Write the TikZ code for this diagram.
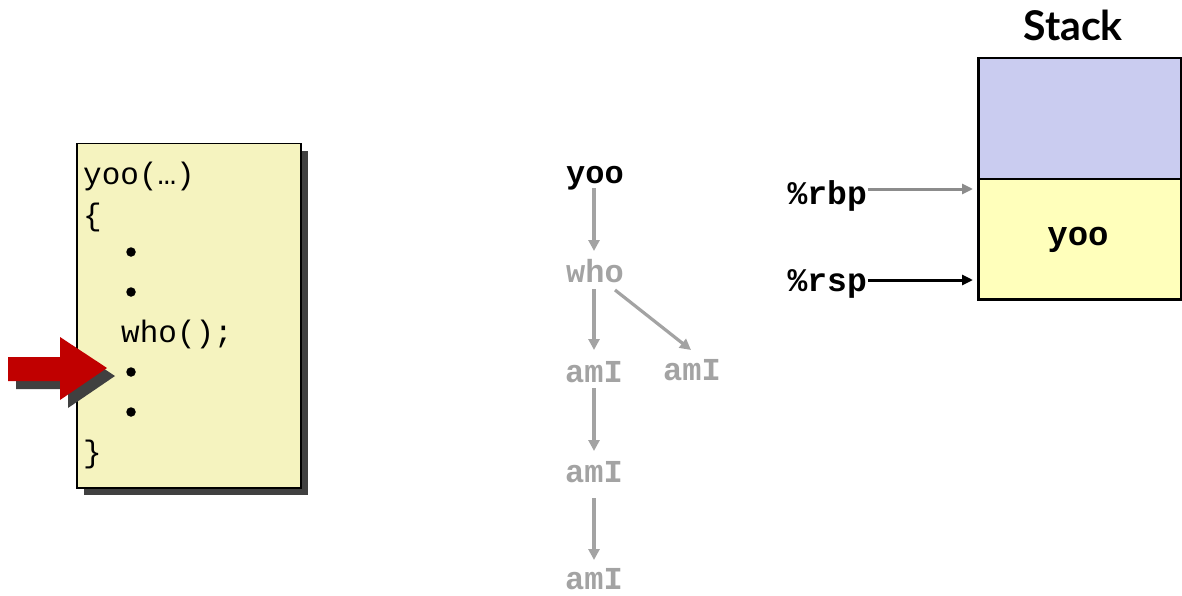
\documentclass[tikz,border=0pt]{standalone}
\usepackage{fontspec}
\setmainfont{Lato}
\newfontfamily\codefont{Liberation Mono}
\usetikzlibrary{arrows.meta}
\definecolor{codebg}{HTML}{F5F3BF}
\definecolor{shadowc}{HTML}{404040}
\definecolor{treegray}{HTML}{A3A3A3}
\definecolor{stackblue}{HTML}{CACCF0}
\definecolor{stackyellow}{HTML}{FFFFBB}
\definecolor{arrowred}{HTML}{C00000}
\definecolor{rbpgray}{HTML}{8C8C8C}
\tikzset{
  codeline/.style={anchor=base west, inner sep=0pt, font=\codefont\fontsize{31}{31}\selectfont},
  bulletdot/.style={circle, fill=black, inner sep=0pt, minimum size=9.5pt},
  treelabel/.style={inner sep=0pt, text=treegray, font=\codefont\bfseries\fontsize{32}{32}\selectfont},
  treeroot/.style={treelabel, text=black},
  treearrow/.style={draw=treegray, line width=3.2pt, -{Triangle[length=11pt,width=11pt]}},
  reglabel/.style={inner sep=1pt, anchor=east, font=\codefont\bfseries\fontsize{33}{33}\selectfont},
  regarrow/.style={line width=3pt, -{Triangle[length=11pt,width=10pt]}},
}
\begin{document}
\begin{tikzpicture}[x=1pt,y=-1pt]
\useasboundingbox (0,0) rectangle (1182,596);
% code box with shadow
\fill[shadowc] (84,151) rectangle (308,495);
\node[draw=black, line width=1.5pt, fill=codebg, minimum width=224pt, minimum height=344pt, anchor=north west, inner sep=0pt] (code) at (76,143) {};
\node[codeline] (l1) at (83,185) {yoo(…)};
\node[codeline] (l2) at (83,225) {\{};
\node[bulletdot] (b1) at (131,252) {};
\node[bulletdot] (b2) at (131,292) {};
\node[codeline] (l5) at (121,342) {who();};
\node[bulletdot] (b3) at (131,372) {};
\node[bulletdot] (b4) at (131,412) {};
\node[codeline] (l8) at (83,462) {\}};
% red arrow with shadow
\fill[shadowc] (16,365) -- (68,365) -- (68,345) -- (115,376) -- (68,408) -- (68,389) -- (16,389) -- cycle;
\fill[arrowred] (8,357) -- (60,357) -- (60,337) -- (107,368) -- (60,400) -- (60,381) -- (8,381) -- cycle;
% call tree
\node[treeroot, anchor=base] (t0) at (595,183) {yoo};
\node[treelabel, anchor=base] (t1) at (595,282) {who};
\node[treelabel, anchor=base] (t2) at (594,382) {amI};
\node[treelabel, anchor=base] (t3) at (692,380) {amI};
\node[treelabel, anchor=base] (t4) at (594,482) {amI};
\node[treelabel, anchor=base] (t5) at (594,589) {amI};
\coordinate (a0s) at (594,188); \coordinate (a0e) at (594,251);
\coordinate (a1s) at (594,289); \coordinate (a1e) at (594,350);
\coordinate (a2s) at (615,290); \coordinate (a2e) at (691,350);
\coordinate (a3s) at (594,388); \coordinate (a3e) at (594,451);
\coordinate (a4s) at (594,498); \coordinate (a4e) at (594,560);
\draw[treearrow] (a0s) -- (a0e);
\draw[treearrow] (a1s) -- (a1e);
\draw[treearrow] (a2s) -- (a2e);
\draw[treearrow] (a3s) -- (a3e);
\draw[treearrow] (a4s) -- (a4e);
% stack
\node[font=\bfseries\fontsize{41}{41}\selectfont, inner sep=0pt] (stk) at (1073,25) {Stack};
\node[draw=black, line width=2.5pt, fill=stackblue, minimum width=203pt, minimum height=121pt, anchor=north west, inner sep=0pt] (upper) at (977,57) {};
\node[draw=black, line width=2.5pt, fill=stackyellow, minimum width=203pt, minimum height=120pt, anchor=north west, inner sep=0pt] (lower) at (977,178) {};
\node[inner sep=0pt, font=\codefont\bfseries\fontsize{34}{34}\selectfont] (yoo) at (1078,240) {yoo};
\node[reglabel] (rbp) at (868,196) {\%rbp};
\node[reglabel] (rsp) at (868,284) {\%rsp};
\coordinate (rbpend) at (973,189);
\coordinate (rspend) at (973,280);
\draw[regarrow, draw=rbpgray] (rbp.east |- rbpend) -- (rbpend);
\draw[regarrow, draw=black] (rsp.east |- rspend) -- (rspend);
\end{tikzpicture}
\end{document}
